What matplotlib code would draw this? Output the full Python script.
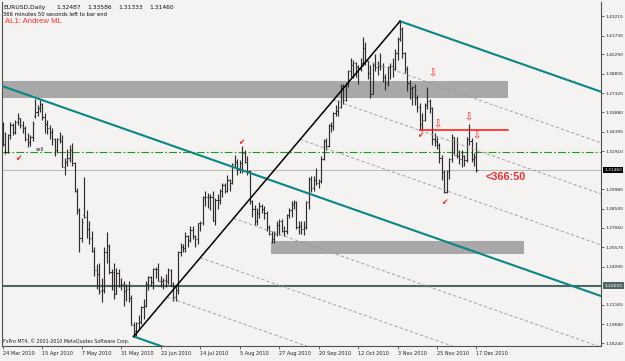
import matplotlib
matplotlib.use("Agg")
import matplotlib.pyplot as plt
from matplotlib.patches import Rectangle
import matplotlib.transforms as mtrans
import numpy as np

plt.rcParams['font.family'] = ['DejaVu Sans']

# ---------------- data ----------------
date_labels = ['24 Mar 2010', '15 Apr 2010', '7 May 2010', '31 May 2010', '22 Jun 2010',
               '14 Jul 2010', '5 Aug 2010', '27 Aug 2010', '20 Sep 2010', '12 Oct 2010',
               '3 Nov 2010', '25 Nov 2010', '17 Dec 2010']
date_bars = [0, 16, 32, 48, 64, 80, 96, 112, 128, 144, 160, 176, 192]

opens = [1.3505,1.3345,1.3285,1.3410,1.3490,1.3440,1.3510,1.3540,1.3490,1.3470,
         1.3380,1.3360,1.3400,1.3560,1.3590,1.3620,1.3650,1.3550,1.3500,1.3470,
         1.3440,1.3380,1.3300,1.3380,1.3370,1.3170,1.3210,1.3240,1.3300,1.3200,
         1.2990,1.2840,1.2630,1.2800,1.2790,1.2700,1.2630,1.2530,1.2380,1.2350,
         1.2220,1.2230,1.2520,1.2570,1.2370,1.2370,1.2200,1.2360,1.2270,1.2280,
         1.2220,1.2240,1.2170,1.1960,1.1920,1.1980,1.1990,1.2100,1.2110,1.2280,
         1.2330,1.2290,1.2390,1.2390,1.2300,1.2300,1.2310,1.2300,1.2380,1.2260,
         1.2180,1.2230,1.2520,1.2560,1.2550,1.2640,1.2610,1.2690,1.2640,1.2620,
         1.2740,1.2740,1.2940,1.2940,1.2940,1.2940,1.2760,1.2920,1.2920,1.2990,
         1.3030,1.2990,1.3070,1.3050,1.3190,1.3210,1.3150,1.3200,1.3280,1.3210,
         1.3140,1.2910,1.2850,1.2760,1.2820,1.2870,1.2850,1.2820,1.2710,1.2660,
         1.2620,1.2660,1.2730,1.2760,1.2680,1.2680,1.2800,1.2840,1.2890,1.2900,
         1.2710,1.2720,1.2700,1.2710,1.2900,1.3080,1.3010,1.3070,1.3050,1.3060,
         1.3230,1.3370,1.3330,1.3490,1.3480,1.3580,1.3600,1.3630,1.3790,1.3680,
         1.3800,1.3900,1.3950,1.3960,1.3930,1.3920,1.3960,1.4080,1.3980,1.3890,
         1.3730,1.3950,1.3930,1.3950,1.3940,1.3860,1.3810,1.3930,1.3940,1.3920,
         1.4040,1.4150,1.4220,1.4040,1.3920,1.3810,1.3770,1.3780,1.3700,1.3630,
         1.3500,1.3530,1.3640,1.3670,1.3620,1.3380,1.3370,1.3340,1.3240,1.3130,
         1.2980,1.3140,1.3230,1.3400,1.3260,1.3250,1.3230,1.3250,1.3220,1.3380,
         1.3370,1.3230,1.32487]
highs = [1.3510,1.3440,1.3420,1.3510,1.3505,1.3530,1.3585,1.3545,1.3520,1.3480,
         1.3430,1.3410,1.3520,1.3690,1.3640,1.3680,1.3660,1.3580,1.3530,1.3490,
         1.3470,1.3390,1.3390,1.3440,1.3410,1.3240,1.3310,1.3340,1.3350,1.3210,
         1.3010,1.2860,1.2780,1.3093,1.2840,1.2760,1.2680,1.2560,1.2430,1.2440,
         1.2320,1.2560,1.2670,1.2580,1.2390,1.2440,1.2400,1.2390,1.2320,1.2300,
         1.2280,1.2300,1.2190,1.1990,1.1990,1.2040,1.2110,1.2160,1.2300,1.2340,
         1.2340,1.2400,1.2410,1.2440,1.2340,1.2320,1.2350,1.2400,1.2390,1.2290,
         1.2270,1.2530,1.2590,1.2580,1.2670,1.2650,1.2720,1.2720,1.2650,1.2740,
         1.2760,1.2950,1.2990,1.2970,1.2960,1.2990,1.2930,1.2960,1.3000,1.3050,
         1.3050,1.3110,1.3080,1.3200,1.3260,1.3230,1.3220,1.3333,1.3300,1.3250,
         1.3150,1.2920,1.2880,1.2860,1.2900,1.2890,1.2870,1.2830,1.2730,1.2680,
         1.2680,1.2760,1.2770,1.2770,1.2720,1.2810,1.2860,1.2910,1.2920,1.2910,
         1.2760,1.2760,1.2760,1.2910,1.3090,1.3100,1.3100,1.3160,1.3080,1.3250,
         1.3380,1.3390,1.3500,1.3510,1.3590,1.3640,1.3680,1.3800,1.3800,1.3810,
         1.3910,1.4000,1.3990,1.3970,1.3950,1.4000,1.4160,1.4120,1.3990,1.3950,
         1.3960,1.4030,1.3980,1.4040,1.3960,1.3880,1.3940,1.3960,1.4000,1.4070,
         1.4160,1.4282,1.4240,1.4050,1.3940,1.3830,1.3790,1.3800,1.3720,1.3660,
         1.3580,1.3660,1.3780,1.3690,1.3630,1.3430,1.3400,1.3350,1.3260,1.3150,
         1.3150,1.3240,1.3420,1.3400,1.3400,1.3300,1.3300,1.3260,1.3400,1.3500,
         1.3390,1.3280,1.33586]
lows = [1.3330,1.3267,1.3280,1.3380,1.3410,1.3420,1.3490,1.3465,1.3430,1.3370,
        1.3320,1.3330,1.3370,1.3540,1.3560,1.3590,1.3530,1.3430,1.3420,1.3380,
        1.3340,1.3250,1.3280,1.3350,1.3170,1.3110,1.3180,1.3210,1.3180,1.2980,
        1.2810,1.2523,1.2600,1.2780,1.2630,1.2580,1.2520,1.2340,1.2235,1.2200,
        1.2143,1.2210,1.2440,1.2350,1.2230,1.2160,1.2200,1.2250,1.2230,1.2110,
        1.2150,1.2140,1.1960,1.1876,1.1880,1.1930,1.1970,1.2010,1.2100,1.2230,
        1.2260,1.2240,1.2320,1.2300,1.2250,1.2240,1.2250,1.2280,1.2260,1.2150,
        1.2150,1.2200,1.2490,1.2520,1.2520,1.2560,1.2600,1.2620,1.2560,1.2580,
        1.2680,1.2730,1.2870,1.2860,1.2840,1.2760,1.2730,1.2850,1.2890,1.2940,
        1.2970,1.2980,1.2990,1.3040,1.3160,1.3110,1.3120,1.3120,1.3200,1.3110,
        1.2890,1.2790,1.2730,1.2730,1.2780,1.2820,1.2770,1.2680,1.2650,1.2588,
        1.2590,1.2640,1.2650,1.2670,1.2640,1.2660,1.2780,1.2790,1.2850,1.2700,
        1.2660,1.2660,1.2650,1.2700,1.2850,1.2980,1.2990,1.3030,1.3010,1.3050,
        1.3220,1.3300,1.3320,1.3440,1.3450,1.3560,1.3560,1.3620,1.3650,1.3670,
        1.3780,1.3860,1.3850,1.3860,1.3800,1.3900,1.3940,1.3950,1.3840,1.3700,
        1.3730,1.3900,1.3870,1.3910,1.3820,1.3760,1.3790,1.3840,1.3860,1.3910,
        1.3990,1.4130,1.4000,1.3890,1.3750,1.3690,1.3640,1.3640,1.3590,1.3450,
        1.3450,1.3520,1.3610,1.3580,1.3340,1.3330,1.3310,1.3200,1.3070,1.2969,
        1.2970,1.3080,1.3210,1.3270,1.3240,1.3190,1.3170,1.3180,1.3210,1.3340,
        1.3210,1.3180,1.31333]
closes = [1.3345,1.3285,1.3410,1.3490,1.3440,1.3510,1.3540,1.3490,1.3470,1.3380,
          1.3360,1.3400,1.3500,1.3590,1.3620,1.3650,1.3550,1.3500,1.3470,1.3440,
          1.3380,1.3300,1.3380,1.3370,1.3170,1.3210,1.3240,1.3300,1.3200,1.2990,
          1.2840,1.2630,1.2750,1.2790,1.2700,1.2630,1.2530,1.2380,1.2350,1.2220,
          1.2230,1.2520,1.2570,1.2370,1.2370,1.2200,1.2360,1.2270,1.2280,1.2220,
          1.2240,1.2170,1.1960,1.1920,1.1980,1.1990,1.2100,1.2110,1.2280,1.2330,
          1.2290,1.2390,1.2390,1.2300,1.2300,1.2310,1.2300,1.2380,1.2260,1.2180,
          1.2230,1.2520,1.2560,1.2550,1.2640,1.2610,1.2690,1.2640,1.2620,1.2740,
          1.2740,1.2940,1.2940,1.2940,1.2940,1.2760,1.2920,1.2920,1.2990,1.3030,
          1.2990,1.3070,1.3050,1.3190,1.3210,1.3150,1.3200,1.3280,1.3210,1.3140,
          1.2910,1.2850,1.2760,1.2820,1.2870,1.2850,1.2820,1.2710,1.2660,1.2620,
          1.2660,1.2730,1.2760,1.2680,1.2680,1.2800,1.2840,1.2890,1.2900,1.2710,
          1.2720,1.2700,1.2710,1.2900,1.3080,1.3010,1.3070,1.3050,1.3060,1.3230,
          1.3370,1.3330,1.3490,1.3480,1.3580,1.3600,1.3630,1.3790,1.3680,1.3800,
          1.3900,1.3950,1.3960,1.3930,1.3920,1.3960,1.4080,1.3980,1.3890,1.3730,
          1.3950,1.3930,1.3950,1.3940,1.3860,1.3810,1.3930,1.3940,1.3920,1.4040,
          1.4150,1.4220,1.4040,1.3920,1.3810,1.3770,1.3780,1.3700,1.3630,1.3500,
          1.3530,1.3640,1.3670,1.3620,1.3380,1.3370,1.3340,1.3240,1.3130,1.2980,
          1.3140,1.3230,1.3400,1.3260,1.3250,1.3230,1.3250,1.3220,1.3380,1.3370,
          1.3230,1.3249,1.31460]

price_ticks = [1.43215, 1.41730, 1.40290, 1.38805, 1.37320, 1.35880, 1.34395, 1.32910,
               1.29985, 1.28500, 1.27060, 1.25575, 1.24090, 1.21165, 1.19680, 1.18240]
bid_price = 1.31460
hline_price = 1.22650
green_level = 1.3284
red_level = 1.3455
red_bars = (169, 204.8)
zone_upper = (1.3696, 1.3826)
zone_upper_bars = (-5, 204.8)
zone_lower = (1.2505, 1.2605)
zone_lower_bars = (108.7, 211.3)
pf_low = (53, 1.1876)      # Jun 7 low
pf_high = (161, 1.4282)    # Nov 4 high
pf_slope = -0.000660       # price per bar
header_name = 'EURUSD,Daily'
header_values = ['1.32487', '1.33586', '1.31333', '1.31460']
timer_text = '366 minutes 50 seconds left to bar end'
indicator_text = 'AL1: Andrew ML'
countdown_text = '<366:50'
copyright_text = 'FxPro MT4, \u00a9 2001-2010 MetaQuotes Software Corp.'

# ---------------- layout ----------------
W, H = 625, 361
AX_L, AX_R, AX_T, AX_B = 2, 601, 2, 346
BG = '#f4f3f2'
fig = plt.figure(figsize=(W / 100, H / 100), dpi=100)
fig.patch.set_facecolor(BG)
ax = fig.add_axes([AX_L / W, 1 - AX_B / H, (AX_R - AX_L) / W, (AX_B - AX_T) / H])
ax.set_facecolor(BG)

XMIN, XMAX = -0.4055, 242.50
YMIN, YMAX = 1.18034, 1.44289
ax.set_xlim(XMIN, XMAX)
ax.set_ylim(YMIN, YMAX)


def ftext(x, y, s, **kw):
    return fig.text(x / W, 1 - y / H, s, **kw)


# zones
for (p0, p1), (b0, b1) in [(zone_upper, zone_upper_bars), (zone_lower, zone_lower_bars)]:
    ax.add_patch(Rectangle((b0, p0), b1 - b0, p1 - p0, facecolor='#a8a8a8',
                           edgecolor='none', zorder=1))

# horizontal levels
ax.axhline(bid_price, color='#b8b8b8', lw=0.7, zorder=2)
ax.axhline(green_level, color='#1f9a1f', lw=0.8, ls=(0, (7, 2, 1.5, 2)), zorder=2)
ax.axhline(hline_price, color='#4f6666', lw=1.5, zorder=2)

# OHLC bars
idx = np.arange(len(closes))
bar_col = '#2e2e2e'
ax.vlines(idx, lows, highs, color=bar_col, lw=0.85, zorder=3)
ax.hlines(opens, idx - 0.45, idx, color=bar_col, lw=0.75, zorder=3)
ax.hlines(closes, idx, idx + 0.45, color=bar_col, lw=0.75, zorder=3)

# pitchfork geometry
bi, bp = pf_low
ci, cp = pf_high
for k in [1, 2, 3, 5, 6, 7]:
    t = k / 8
    i0 = ci + t * (bi - ci)
    p0 = cp + t * (bp - cp)
    xs = np.array([i0, XMAX + 5])
    ax.plot(xs, p0 + pf_slope * (xs - i0), color='#a09898', lw=0.65,
            ls=(0, (3.5, 2.5)), zorder=4)

teal = '#0b8585'
xs = np.array([ci, XMAX + 5])
ax.plot(xs, cp + pf_slope * (xs - ci), color=teal, lw=1.5, zorder=5)
xs = np.array([bi, XMAX + 5])
ax.plot(xs, bp + pf_slope * (xs - bi), color=teal, lw=1.5, zorder=5)
mi, mp = (bi + ci) / 2, (bp + cp) / 2
xs = np.array([XMIN - 5, XMAX + 5])
ax.plot(xs, mp + pf_slope * (xs - mi), color=teal, lw=1.5, zorder=5)
ax.plot([bi, ci], [bp, cp], color='black', lw=1.1, zorder=5)

# red resistance line
ax.plot(list(red_bars), [red_level, red_level], color='#ff1010', lw=1.1, zorder=5)

# axes styling
ax.spines['top'].set_visible(False)
for s in ['left', 'right', 'bottom']:
    ax.spines[s].set_color('#505050')
    ax.spines[s].set_linewidth(0.8)
ax.yaxis.tick_right()
ax.set_yticks(price_ticks)
ax.set_yticklabels([f'{v:.5f}' for v in price_ticks])
ax.tick_params(axis='y', which='both', length=2.2, width=0.6, color='#505050',
               labelsize=3.2, pad=1.2, labelcolor='#202020')
ax.set_xticks(date_bars)
ax.set_xticklabels(date_labels, ha='left')
ax.tick_params(axis='x', length=2.2, width=0.6, color='#505050', labelsize=3.6,
               pad=1.3, labelcolor='#202020')

trans = mtrans.blended_transform_factory(ax.transAxes, ax.transData)
for val, fc in [(bid_price, 'black'), (hline_price, '#4f6666')]:
    ax.text(1.0 + 3.5 / (AX_R - AX_L), val, f'{val:.5f}', transform=trans, ha='left',
            va='center', fontsize=3.2, color='white', clip_on=False, zorder=10,
            bbox=dict(boxstyle='square,pad=0.25', fc=fc, ec='none'))

# header texts
ftext(3, 9, header_name, fontsize=4.3, color='#101010', va='baseline')
for xv, s in zip([56, 87, 118, 149], header_values):
    ftext(xv, 9, s, fontsize=4.3, color='#101010', va='baseline')
ftext(3, 15.5, timer_text, fontsize=3.8, color='#101010', va='baseline')
ftext(5, 23, indicator_text, fontsize=5.6, color='#ff2a2a', va='baseline',
      family='Liberation Sans')
ftext(3, 343.5, copyright_text, fontsize=3.4, color='#202020', va='baseline')

# annotations
ftext(485, 177, countdown_text, fontsize=7.8, color='#e83030', va='center', ha='left',
      family='Liberation Sans', weight='bold')
ftext(40, 149, 'sell', fontsize=3.5, color='#202020', va='center', ha='center')
for (x, y) in [(18, 158), (241, 142), (420, 136), (444, 202)]:
    ftext(x, y, '\u2714', fontsize=5.5, color='#ee1c1c', va='center', ha='center')
for (x, y) in [(432, 73), (437, 124), (468, 117), (476, 135)]:
    ftext(x, y, '\u21e9', fontsize=7, color='#ee2020', va='center', ha='center')

fig.savefig('out.png', dpi=100, facecolor=BG)
